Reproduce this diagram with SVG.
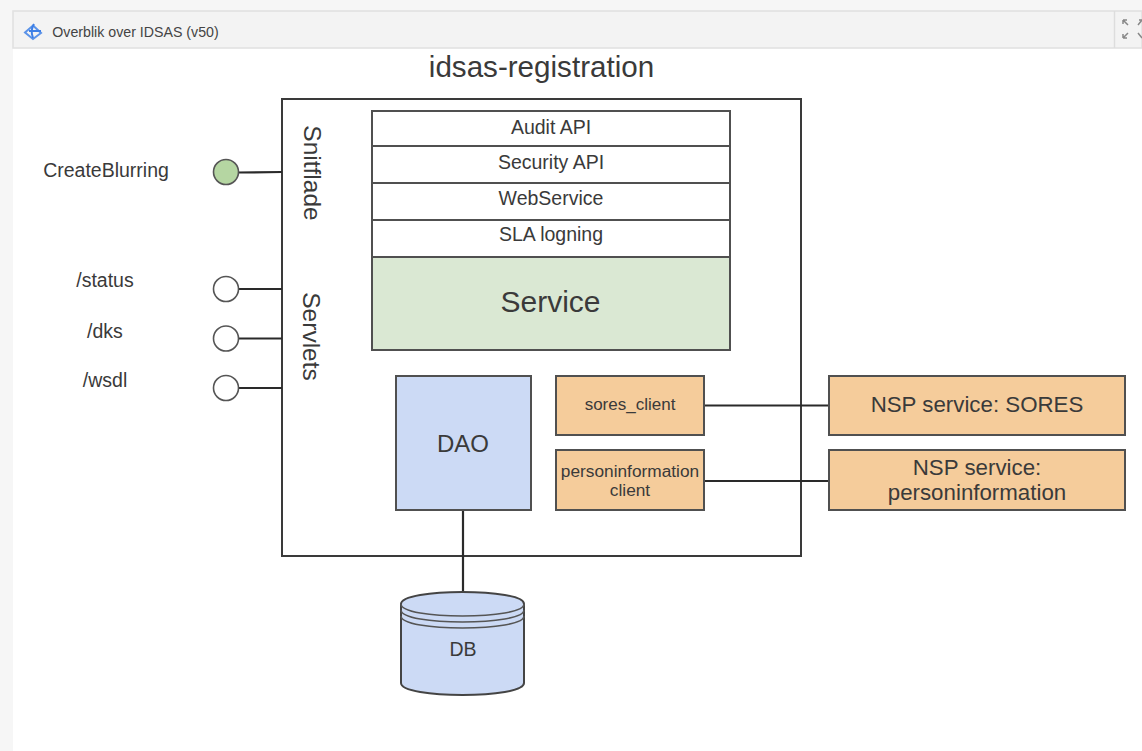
<svg xmlns="http://www.w3.org/2000/svg" width="1142" height="751" viewBox="0 0 1142 751">
<style>
text{font-family:"Liberation Sans",Arial,sans-serif;fill:#3a3a3a;text-anchor:middle}
.box{stroke:#505050;stroke-width:2}
.w{fill:#fff}.o{fill:#f5cc9b}.b{fill:#ccdaf5}.g{fill:#dae8d3}
.c{stroke:#2a2a2a;stroke-width:2.200;fill:none}
.p{fill:#fff;stroke:#555;stroke-width:1.600}
</style>
<rect width="1142" height="751" fill="#fff"/>
<rect x="0" y="0" width="1142" height="11" fill="#f6f6f6"/>
<rect x="0" y="11" width="13" height="740" fill="#f6f6f6"/>
<g id="titlebar">
<rect x="13" y="11" width="1129" height="37" fill="#f3f3f3" stroke="#e0e0e0" stroke-width="1.5"/>
<path d="M1114.500 11V48" stroke="#ddd" stroke-width="1.500"/>
<path d="M33 25.500L41 33L33 39L25 32.500Z" fill="none" stroke="#5b93e8" stroke-width="2"/>
<path d="M34 24Q30 30 33 38M29 31H41" fill="none" stroke="#3d7fe6" stroke-width="2"/>
<text x="135.500" y="37" font-size="14.200" style="fill:#444">Overblik over IDSAS (v50)</text>
<path d="M1123 20l5 5M1123 20h4M1123 20v4M1142 20l-4 5M1142 20h-3M1123 38l5-5M1123 38h4M1123 38v-4M1142 38l-4-5" stroke="#888" stroke-width="1.500" fill="none"/>
</g>
<text x="541.500" y="77" font-size="29.600">idsas-registration</text>
<g id="main"><rect class="box w" x="282" y="99" width="519" height="457" style="stroke:#3a3a3a"/>
<text transform="translate(312 173) rotate(90)" font-size="24.500" dominant-baseline="central">Snitflade</text>
<text transform="translate(311 336.500) rotate(90)" font-size="24.500" dominant-baseline="central">Servlets</text></g>
<g id="connectors">
<path class="c" d="M238 172.500L282 172M238 289H282M238 338.500H282M238 388H282M704 405.500H829M704 481H829M463 510V593"/>
</g>
<g id="createblurring"><circle cx="226" cy="172" r="12.500" fill="#b5d6a2" stroke="#555" stroke-width="1.600"/><text x="106" y="177" font-size="19.500">CreateBlurring</text></g>
<g id="status"><circle class="p" cx="226" cy="289" r="12.500"/><text x="105" y="287" font-size="19.500">/status</text></g>
<g id="dks"><circle class="p" cx="226" cy="338.500" r="12.500"/><text x="105" y="338" font-size="19.500">/dks</text></g>
<g id="wsdl"><circle class="p" cx="226" cy="388" r="12.500"/><text x="105" y="387" font-size="19.500">/wsdl</text></g>
<g id="audit"><rect class="box w" x="372" y="111" width="358" height="35"/><text x="551" y="134" font-size="19.500">Audit API</text></g>
<g id="security"><rect class="box w" x="372" y="146" width="358" height="37"/><text x="551" y="169" font-size="19.500">Security API</text></g>
<g id="webservice"><rect class="box w" x="372" y="183" width="358" height="37"/><text x="551" y="205" font-size="19.500">WebService</text></g>
<g id="sla"><rect class="box w" x="372" y="220" width="358" height="37"/><text x="551" y="241" font-size="19.500">SLA logning</text></g>
<g id="service"><rect class="box g" x="372" y="257" width="358" height="93"/><text x="550.500" y="312" font-size="30">Service</text></g>
<g id="dao"><rect class="box b" x="396" y="376" width="135" height="134"/><text x="463" y="452" font-size="24">DAO</text></g>
<g id="sores_client"><rect class="box o" x="556" y="376" width="148" height="59"/><text x="630" y="410" font-size="17">sores_client</text></g>
<g id="personinformation_client"><rect class="box o" x="556" y="450" width="148" height="60"/><text x="630" y="477" font-size="17.300">personinformation</text><text x="630" y="496" font-size="17.300">client</text></g>
<g id="nsp_sores"><rect class="box o" x="829" y="376" width="296" height="59"/><text x="977" y="412" font-size="22.300">NSP service: SORES</text></g>
<g id="nsp_person"><rect class="box o" x="829" y="450" width="296" height="60"/><text x="977" y="475" font-size="22.300">NSP service:</text><text x="977" y="500" font-size="22.300">personinformation</text></g>
<g id="db">
<path d="M401 604C401 588 524 588 524 604V683C524 699 401 699 401 683Z" fill="#ccdaf5" stroke="#444" stroke-width="2"/>
<path d="M401 604C401 620 524 620 524 604M401 610C401 626 524 626 524 610M401 616C401 632 524 632 524 616" fill="none" stroke="#555" stroke-width="1.600"/>
<text x="463" y="656" font-size="19.500">DB</text>
</g>
</svg>
